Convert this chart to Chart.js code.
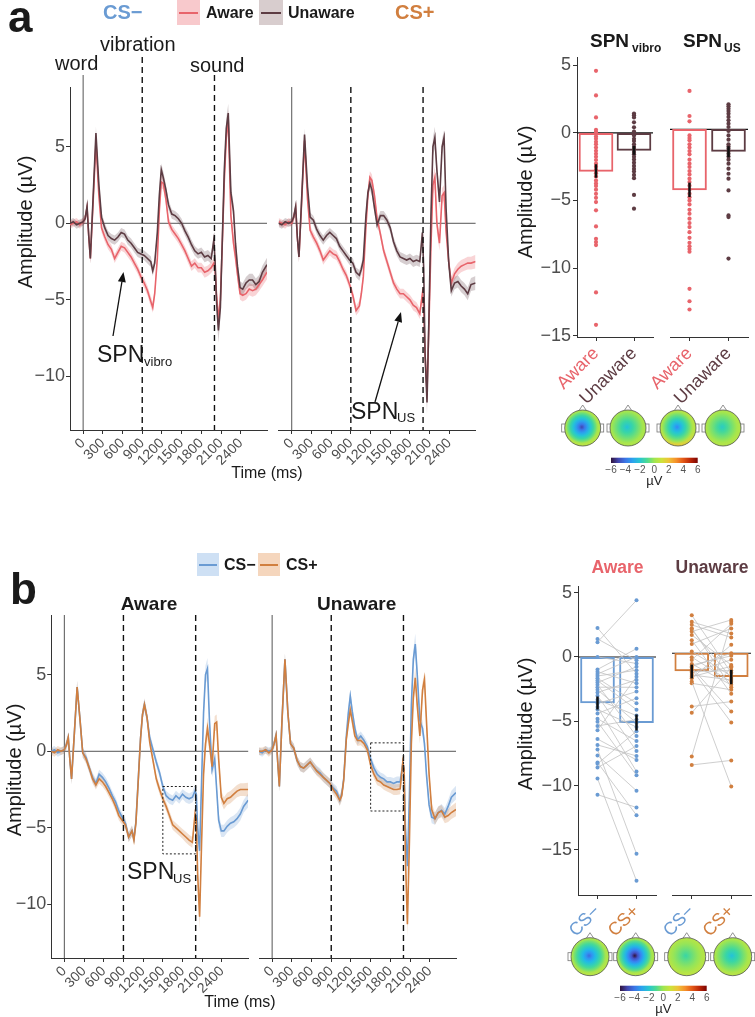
<!DOCTYPE html>
<html>
<head>
<meta charset="utf-8">
<script src="https://cdn.jsdelivr.net/npm/chart.js@4.4.0/dist/chart.umd.min.js"></script>
<style>
body{margin:0;background:#fff;width:755px;height:1017px;position:relative;overflow:hidden;font-family:'Liberation Sans',Arial,sans-serif}
canvas{position:absolute}
.t{position:absolute;white-space:nowrap;line-height:1;color:#1a1a1a}
.bx{position:absolute}
svg{position:absolute;left:0;top:0}
</style>
</head>
<body>
<script>
// ---- ERP data (time in ms, amplitude in µV) ----
const times = [-200,-150,-100,-50,0,30,60,85,110,150,195,240,280,330,380,430,480,530,580,630,680,730,780,830,880,930,980,1030,1060,1090,1130,1160,1190,1220,1260,1300,1350,1400,1450,1500,1550,1600,1650,1700,1750,1800,1850,1900,1950,1990,2010,2030,2060,2090,2120,2150,2180,2210,2250,2290,2320,2350,2390,2430,2480,2530,2580,2630,2680,2730,2800];
const seBand = [0.25,0.25,0.25,0.25,0.25, 0.3,0.35,0.35,0.35,0.35,0.4, 0.35,0.3,0.3,0.3,0.3,0.3,0.3,0.3,0.3,0.3,0.3,0.3,0.3,0.3,0.32,0.32,0.35,0.35,0.35,0.35,0.35,0.4,0.4,0.35,0.35,0.3,0.3,0.3,0.3,0.3,0.32,0.32,0.32,0.32,0.32,0.35,0.35,0.35, 0.4,0.5,0.7,0.8,0.7,0.6,0.6,0.7,0.6,0.5,0.5,0.5,0.45,0.4, 0.4,0.4,0.4,0.4,0.4,0.42,0.42,0.45];

const aCSminusUnaware = [0.0,0.1,-0.1,0.0,0.1, 0.3,1.1,-0.8,-2.3,1.5, 5.9,2.5,0.4,-0.3,-0.8, -1.0,-1.1,-0.9,-0.6,-0.7, -1.1,-1.3,-1.6,-1.9,-2.0, -2.1,-2.3,-2.5,-3.1,-2.6, -0.6,1.8,3.5,3.0,2.2, 1.2,0.6,0.5,0.3,0.0, -0.5,-0.9,-1.4,-1.8,-2.0, -1.9,-2.2,-2.1,-2.3,-1.1, -2.5,-5.0,-7.0,-5.5,-1.0, 3.5,6.2,7.2,2.0,0.8, -1.3,-2.8,-4.2,-4.3,-3.9, -3.7,-3.7,-4.0,-3.8,-3.2, -2.7];
const aCSminusAware = [-0.1,0.0,0.1,-0.1,0.1, 0.3,1.0,-0.8,-2.3,1.2, 5.3,1.8,-0.3,-0.9,-1.4, -1.7,-2.3,-1.9,-1.5,-1.6, -1.9,-2.2,-2.6,-3.0,-3.5, -3.9,-4.4,-5.1,-5.5,-4.6, -2.3,0.8,2.7,2.6,1.6, 0.1,-0.4,-0.7,-1.0,-1.4, -1.8,-2.3,-2.8,-2.6,-2.9, -2.9,-3.2,-3.1,-2.9,-2.6, -3.0,-4.6,-6.3,-5.0,-1.2, 2.8,5.6,6.8,0.5,-1.3, -2.2,-3.3,-4.6,-4.7,-4.6, -4.3,-4.4,-4.3,-4.0,-3.7, -3.2];
const aCSplusUnaware = [0.0,-0.1,0.1,0.0,0.1, 0.4,1.1,-0.9,-2.2,1.5, 5.8,2.4,0.4,0.2,-0.4, -0.8,-1.1,-0.8,-0.6,-0.8, -1.0,-1.5,-1.8,-2.1,-2.4, -2.6,-3.2,-3.4,-3.0,-2.4, 0.5,2.0,2.6,2.2,1.0, -0.1,0.5,0.5,0.2,-0.3, -1.2,-1.8,-2.2,-2.3,-2.4, -2.3,-2.5,-2.4,-2.5,-0.6, -3.0,-8.5,-11.7,-6.0,0.5, 5.0,5.6,3.5,1.4,5.0, 5.6,1.0,-2.5,-4.4,-3.9, -3.8,-4.1,-4.3,-4.6,-4.0, -3.9];
const aCSplusAware = [0.1,0.0,-0.1,0.1,0.0, 0.4,1.0,-0.9,-2.2,1.3, 5.4,1.6,-0.45,-0.9,-1.3, -1.8,-2.4,-2.1,-1.8,-2.0, -2.1,-2.5,-3.0,-3.4,-4.0, -4.7,-5.7,-5.4,-4.6,-3.5, -0.2,1.8,3.0,2.8,1.8, 0.3,-0.7,-1.8,-2.5,-3.2, -3.9,-4.3,-4.6,-4.6,-4.8, -5.0,-5.35,-5.5,-5.9,-4.6, -5.5,-8.5,-11.0,-6.5,-1.5, 2.5,3.0,0.0,-1.3,1.8, 2.0,-0.5,-2.5,-3.9,-3.3, -3.0,-2.8,-2.7,-2.6,-2.6, -2.5];

const bAwareCSminus = [0.0,0.1,-0.1,0.0,0.1, 0.4,0.9,-0.6,-1.8,1.0, 4.2,2.0,-0.1,-0.4,-1.1, -1.7,-2.1,-1.5,-1.7,-2.0, -2.4,-2.9,-3.3,-3.9,-4.3, -4.7,-5.6,-5.2,-5.7,-4.6, -1.5,0.8,2.4,3.05,2.2, 0.9,0.1,-0.7,-1.4,-2.3, -2.9,-3.1,-3.2,-2.9,-3.1, -2.8,-3.0,-3.1,-3.0,-2.6, -2.8,-5.0,-6.5,-2.0,2.5, 5.0,5.4,2.0,-1.2,-0.5, -2.5,-4.5,-5.2,-5.2,-4.9, -4.7,-4.6,-4.4,-4.1,-3.6, -3.2];
const bAwareCSplus = [0.0,-0.1,0.1,0.0,0.1, 0.4,0.9,-0.6,-1.8,1.0, 4.2,2.0,-0.1,-0.5,-1.1, -1.8,-2.2,-1.8,-2.0,-2.3, -2.7,-3.1,-3.6,-4.2,-4.5, -4.8,-5.6,-5.2,-5.8,-4.7, -1.6,0.8,2.4,3.05,2.2, 0.6,-0.6,-1.8,-2.5,-3.1, -3.6,-4.2,-4.8,-5.0,-5.2, -5.4,-5.6,-5.8,-5.95,-4.1, -4.5,-8.0,-10.8,-6.0,-1.5, 0.5,1.5,0.5,-1.0,1.8, 1.9,-0.5,-3.0,-3.4,-3.1, -3.0,-2.8,-2.6,-2.5,-2.5, -2.5];
const bUnawareCSminus = [0.0,-0.1,0.1,0.0,0.1, 0.5,1.05,-0.7,-2.3,2.0, 6.0,2.5,0.5,0.2,-0.6, -1.0,-1.1,-0.9,-0.7,-1.0, -1.25,-1.4,-1.7,-1.9,-2.1, -2.4,-2.6,-3.2,-2.8,-1.8, 1.0,2.5,3.6,2.6,1.5, 0.75,1.0,0.7,0.3,-0.5, -1.1,-1.5,-1.7,-1.8,-2.0, -2.0,-2.1,-2.0,-2.0,-0.8, -1.2,-5.0,-7.5,-3.0,3.0, 6.0,7.0,5.0,2.0,1.5, 0.5,-1.5,-3.5,-4.3,-4.4, -4.0,-3.85,-4.1,-3.6,-3.0, -2.7];
const bUnawareCSplus = [0.0,0.0,0.1,-0.1,0.1, 0.5,1.05,-0.7,-2.3,2.0, 6.0,2.5,0.5,0.2,-0.6, -1.0,-1.1,-0.9,-0.7,-1.0, -1.3,-1.5,-1.7,-1.9,-2.1, -2.5,-2.8,-3.2,-2.9,-1.9, 0.8,1.8,2.7,2.0,1.0, 0.7,0.7,0.5,0.1,-0.9, -1.5,-1.9,-2.0,-2.2,-2.3, -2.4,-2.5,-2.5,-2.45,-0.7, -1.2,-7.0,-11.3,-6.0,0.5, 3.5,4.8,3.0,1.0,4.0, 4.7,2.0,-1.5,-3.8,-4.4, -4.0,-3.9,-4.3,-4.2,-4.0, -3.8];

const eventTimes = [0, 900, 2000];
const erpTicksX = [0,300,600,900,1200,1500,1800,2100,2400];
const erpTicksY = [5,0,-5,-10];
const spnWindow = [1500, 2000];
const spnBoxAware = [-2.3, -6.7];
const spnBoxUnaware = [0.55, -3.9];

// ---- bar + dot data (µV) ----
const groupLabels = ['Aware', 'Unaware'];
const spnVibroMean = [-2.85, -1.3];
const spnVibroErr = [[-3.3, -2.35], [-1.6, -1.0]];
const spnUSMean = [-4.4, -1.6];
const spnUSErr = [[-4.9, -3.9], [-2.0, -1.25]];
const vibroAwareDots = [4.59,2.77,1.14,0.22,0.07,-0.07,-0.27,-0.44,-0.66,-0.85,-1.09,-1.33,-1.55,-1.77,-2.01,-2.28,-2.5,-2.74,-2.99,-3.23,-3.52,-3.74,-3.93,-4.2,-4.51,-4.81,-5.12,-5.73,-6.92,-7.84,-8.08,-8.3,-11.8,-14.2];
const vibroUnawareDots = [1.43,1.31,1.14,0.78,0.41,0.1,-0.19,-0.44,-0.61,-0.85,-1.04,-1.21,-1.41,-1.58,-1.77,-1.97,-2.21,-2.45,-2.67,-2.86,-3.11,-3.35,-4.59,-5.61];
const usAwareDots = [2.79,0.97,0.58,-0.44,-0.63,-0.8,-1.09,-1.33,-1.58,-1.82,-2.21,-2.5,-2.74,-3.03,-3.28,-3.59,-3.83,-4.1,-4.37,-4.68,-4.93,-5.17,-5.46,-5.85,-6.14,-6.5,-6.82,-7.11,-7.48,-7.89,-8.25,-8.5,-8.7,-8.9,-11.6,-12.5,-13.1];
const usUnawareDots = [1.82,1.67,1.5,1.33,1.14,0.9,0.66,0.41,0.17,-0.12,-0.44,-0.75,-1.09,-1.24,-1.41,-1.58,-1.77,-1.97,-2.21,-2.5,-2.86,-3.23,-3.59,-4.44,-6.26,-6.38,-9.4];

const csLabels = ['CS\u2212', 'CS+'];
const awareMean = [-3.57, -5.1];
const awareErr = [[-4.05, -3.1], [-5.7, -4.5]];
const unawareMean = [-1.35, -1.8];
const unawareErr = [[-1.9, -0.9], [-2.35, -1.3]];
const awareCSm = [2.25,1.4,1.15,0,-0.97,-1.15,-1.33,-1.48,-1.66,-1.84,-1.99,-2.17,-2.35,-2.55,-2.76,-3.01,-3.32,-3.62,-3.9,-4.08,-4.39,-4.8,-5.03,-5.36,-5.69,-6.38,-6.84,-7.19,-7.65,-8.2,-8.6,-9.45,-10.7,-8.3];
const awareCSp = [-1.3,-0.26,4.4,-0.51,0.64,-2.05,0,-1.03,-3.59,-4.1,-0.77,-6.15,-2.36,-5.13,-1.79,-7.31,-4.56,-2.69,-8.9,-5.44,-3.21,-6.54,-9.2,-4.87,-1.54,-8.0,-7.69,-15.3,-10.4,-12.3,-6.92,-17.4,-11.7,-5.77];
const unawareCSm = [2.9,2.17,1.92,1.66,1.4,1.0,0.7,0.13,-0.51,-0.82,-1.02,-1.22,-1.4,-1.66,-1.92,-2.17,-4.08,-4.56,-7.9,-8.55,-0.3,-1.1,-1.5,-2.3,1.8,2.4,-0.9,-1.8];
const unawareCSp = [-1.5,1.2,-2.6,2.55,-0.9,-3.1,1.9,-1.74,2.25,-2.42,0,-5.3,-1.33,-2.05,0.64,-10.2,-3.7,-1.1,2.4,-8.2,-2.2,-4.46,-0.5,-2.8,-1.9,1.5,-0.2,-1.0];
const barTicksY = [5,0,-5,-10,-15];

// ---- topography (µV) ----
const topoCentreA = [-5.0, -2.2, -3.6, -1.8];
const topoEdgeA = [0.3, 0.2, 0.5, 0.3];
const topoLowA = [0.6, 0.3, 1.8, 0.4];
const topoCentreB = [-4.2, -6.0, -1.3, -2.2];
const topoEdgeB = [0.3, 0.2, 0.4, 0.3];
const topoLowB = [0.5, 0.5, 0.6, 0.5];
const cbTicks = [-6,-4,-2,0,2,4,6];

const pink = '#E8646B', brown = '#5D3C43', blue = '#6A9BD3', orange = '#D17F3F';
const grey = '#4d4d4d';

Chart.defaults.font.family = "'Liberation Sans', Arial, sans-serif";
Chart.defaults.plugins.legend.display = false;
Chart.defaults.plugins.tooltip.enabled = false;

const fmt = v => (v < 0 ? '\u2212' + Math.abs(v) : String(v));

function makeCanvas(L, T, W, H) {
  const c = document.createElement('canvas');
  c.width = W; c.height = H;
  c.style.left = L + 'px'; c.style.top = T + 'px';
  c.style.width = W + 'px'; c.style.height = H + 'px';
  document.body.appendChild(c);
  return c;
}

function erpChart(L, T, W, H, cfg) {
  const cv = makeCanvas(L, T, W, H);
  const ds = [];
  cfg.series.forEach(s => {
    ds.push({ data: times.map((t, i) => ({ x: t, y: s.v[i] })), borderColor: s.c, borderWidth: 1.6,
      pointRadius: 0, fill: false, order: 0 });
  });
  cfg.series.forEach(s => {
    ds.push({ data: times.map((t, i) => ({ x: t, y: s.v[i] - seBand[i] })), borderWidth: 0, pointRadius: 0, fill: false, order: 1 });
    ds.push({ data: times.map((t, i) => ({ x: t, y: s.v[i] + seBand[i] })), borderWidth: 0, pointRadius: 0,
      fill: '-1', backgroundColor: s.band, order: 1 });
  });
  new Chart(cv, {
    type: 'line',
    data: { datasets: ds },
    options: {
      responsive: false, animation: false, devicePixelRatio: 1,
      layout: { padding: cfg.pad },
      scales: {
        x: {
          type: 'linear', min: -200, max: 2800,
          afterBuildTicks: s => { s.ticks = erpTicksX.map(v => ({ value: v })); },
          afterFit: s => { s.height = cfg.xh; s.paddingLeft = 0; s.paddingRight = 0; },
          ticks: { autoSkip: false, minRotation: 45, maxRotation: 45, font: { size: 14 }, color: grey, padding: 1,
            callback: v => String(v) },
          grid: { drawOnChartArea: false, tickLength: 4, color: '#333' },
          border: { display: true, color: '#333', width: 1 }
        },
        y: {
          min: -13.5, max: 8.9,
          afterBuildTicks: s => { s.ticks = erpTicksY.map(v => ({ value: v })); },
          afterFit: s => { s.width = cfg.yw; },
          ticks: { display: cfg.showY, font: { size: 18 }, color: grey, padding: 1, callback: v => fmt(v) },
          grid: { display: cfg.showY, drawOnChartArea: false, tickLength: 4, color: '#333' },
          border: { display: cfg.showY, color: '#333', width: 1 }
        }
      }
    },
    plugins: [{
      id: 'erpDecor',
      beforeDatasetsDraw(ch) {
        const { ctx, chartArea: a, scales: { x, y } } = ch;
        ctx.save();
        ctx.strokeStyle = '#555'; ctx.lineWidth = 1;
        const y0 = y.getPixelForValue(0);
        ctx.beginPath(); ctx.moveTo(a.left, y0); ctx.lineTo(a.right, y0); ctx.stroke();
        const xw = x.getPixelForValue(eventTimes[0]);
        ctx.beginPath(); ctx.moveTo(xw, cfg.tops ? cfg.tops[0] : a.top); ctx.lineTo(xw, a.bottom); ctx.stroke();
        ctx.restore();
      },
      afterDatasetsDraw(ch) {
        const { ctx, chartArea: a, scales: { x, y } } = ch;
        ctx.save();
        ctx.strokeStyle = '#111'; ctx.lineWidth = 1.4; ctx.setLineDash([6, 4]);
        [1, 2].forEach(k => {
          const xp = x.getPixelForValue(eventTimes[k]);
          ctx.beginPath(); ctx.moveTo(xp, cfg.tops ? cfg.tops[k] : a.top); ctx.lineTo(xp, a.bottom); ctx.stroke();
        });
        if (cfg.box) {
          ctx.lineWidth = 1; ctx.setLineDash([2, 2]); ctx.strokeStyle = '#222';
          const x1 = x.getPixelForValue(spnWindow[0]), x2 = x.getPixelForValue(spnWindow[1]);
          const y1 = y.getPixelForValue(cfg.box[0]), y2 = y.getPixelForValue(cfg.box[1]);
          ctx.strokeRect(x1, y1, x2 - x1, y2 - y1);
        }
        ctx.restore();
      }
    }]
  });
}

function barChart(L, T, W, H, cfg) {
  const cv = makeCanvas(L, T, W, H);
  const ds = [];
  ds.push({ type: 'bar', data: cfg.err, backgroundColor: '#111', borderWidth: 0, barThickness: 1.8, grouped: false, order: 0 });
  if (cfg.dots) {
    cfg.dots.forEach((arr, k) => {
      ds.push({ type: 'line', showLine: false, data: arr.map(v => ({ x: cfg.labels[k], y: v })),
        pointRadius: 2.1, pointBackgroundColor: cfg.dotColors[k], pointBorderWidth: 0, order: 1 });
    });
  }
  if (cfg.pairs) {
    cfg.pairs[0].forEach((v, i) => {
      ds.push({ type: 'line', data: [{ x: cfg.labels[0], y: v }, { x: cfg.labels[1], y: cfg.pairs[1][i] }],
        borderColor: '#c2c2c2', borderWidth: 0.8, pointRadius: 2, pointBackgroundColor: cfg.pairColor,
        pointBorderWidth: 0, fill: false, order: 1 });
    });
  }
  ds.push({ type: 'bar', data: cfg.means, backgroundColor: 'rgba(255,255,255,0)', borderColor: cfg.barColors,
    borderWidth: 1.3, borderSkipped: false, barThickness: 34, grouped: false, order: 3 });
  new Chart(cv, {
    type: 'bar',
    data: { labels: cfg.labels, datasets: ds },
    options: {
      responsive: false, animation: false, devicePixelRatio: 1,
      layout: { padding: cfg.pad },
      scales: {
        x: {
          type: 'category', offset: true,
          afterFit: s => { s.height = cfg.xh; s.paddingLeft = 0; s.paddingRight = 0; },
          ticks: { minRotation: 45, maxRotation: 45, font: { size: 18 }, padding: 2,
            color: c => cfg.labelColors[c.index] },
          grid: { offset: false, drawOnChartArea: false, tickLength: 4, color: '#333' },
          border: { display: true, color: '#333', width: 1 }
        },
        y: {
          min: cfg.ymin, max: cfg.ymax,
          afterBuildTicks: s => { s.ticks = barTicksY.map(v => ({ value: v })); },
          afterFit: s => { s.width = cfg.yw; },
          ticks: { display: cfg.showY, font: { size: 18 }, color: grey, padding: 2, callback: v => fmt(v) },
          grid: { display: cfg.showY, drawOnChartArea: false, tickLength: 4, color: '#333' },
          border: { display: cfg.showY, color: '#333', width: 1 }
        }
      }
    },
    plugins: [{
      id: 'zeroLine',
      beforeDatasetsDraw(ch) {
        const { ctx, chartArea: a, scales: { y } } = ch;
        const y0 = y.getPixelForValue(0);
        ctx.save(); ctx.strokeStyle = '#111'; ctx.lineWidth = 1.1;
        ctx.beginPath(); ctx.moveTo(a.left, y0); ctx.lineTo(a.right, y0); ctx.stroke(); ctx.restore();
      }
    }]
  });
}

const turboStops = [[48,18,59],[68,80,198],[55,135,246],[30,190,230],[60,215,160],[160,230,80],[215,225,55],[250,180,55],[240,110,30],[200,45,8],[122,4,3]];
function turbo(v, a) {
  let t = Math.max(0, Math.min(1, (v + 6) / 12));
  const f = t * 10, i = Math.min(9, Math.floor(f)), u = f - i;
  const c = turboStops[i].map((c0, k) => Math.round(c0 + (turboStops[i + 1][k] - c0) * u));
  return 'rgba(' + c[0] + ',' + c[1] + ',' + c[2] + ',' + (a == null ? 1 : a) + ')';
}

function drawHead(ctx, cx, cy, r, centre, edge, low) {
  ctx.save();
  ctx.strokeStyle = '#777'; ctx.lineWidth = 0.8; ctx.fillStyle = '#fff';
  ctx.beginPath(); ctx.moveTo(cx - 4, cy - r + 1); ctx.lineTo(cx, cy - r - 5); ctx.lineTo(cx + 4, cy - r + 1);
  ctx.closePath(); ctx.fill(); ctx.stroke();
  ctx.fillRect(cx - r - 3, cy - 4, 4, 8); ctx.strokeRect(cx - r - 3, cy - 4, 4, 8);
  ctx.fillRect(cx + r - 1, cy - 4, 4, 8); ctx.strokeRect(cx + r - 1, cy - 4, 4, 8);
  ctx.beginPath(); ctx.arc(cx, cy, r, 0, Math.PI * 2);
  ctx.save(); ctx.clip();
  ctx.fillStyle = turbo(edge); ctx.fillRect(cx - r, cy - r, 2 * r, 2 * r);
  const lg = ctx.createLinearGradient(0, cy, 0, cy + r);
  lg.addColorStop(0, turbo(edge, 0)); lg.addColorStop(1, turbo(low));
  ctx.fillStyle = lg; ctx.fillRect(cx - r, cy, 2 * r, r);
  const bx = cx - 0.05 * r, by = cy - 0.05 * r;
  const g = ctx.createRadialGradient(bx, by, 0, bx, by, r * 0.95);
  for (let k = 0; k <= 6; k++) {
    const f = k / 6;
    g.addColorStop(f, turbo(centre + (edge - centre) * Math.pow(f, 0.9), k === 6 ? 0 : 1));
  }
  ctx.fillStyle = g; ctx.fillRect(cx - r, cy - r, 2 * r, 2 * r);
  ctx.restore();
  ctx.strokeStyle = '#555'; ctx.lineWidth = 0.8;
  ctx.beginPath(); ctx.arc(cx, cy, r, 0, Math.PI * 2); ctx.stroke();
  ctx.restore();
}

function topoChart(L, T, W, H, cfg) {
  const cv = makeCanvas(L, T, W, H);
  new Chart(cv, {
    type: 'scatter',
    data: { datasets: [] },
    options: {
      responsive: false, animation: false, devicePixelRatio: 1,
      layout: { padding: { left: cfg.pl, right: cfg.pr, top: cfg.pt, bottom: 0 } },
      scales: {
        x: {
          type: 'linear', min: -6, max: 6,
          afterBuildTicks: s => { s.ticks = cbTicks.map(v => ({ value: v })); },
          afterFit: s => { s.height = cfg.xh; s.paddingLeft = 0; s.paddingRight = 0; },
          ticks: { maxRotation: 0, font: { size: 10 }, color: '#555', padding: 1, callback: v => fmt(v) },
          grid: { display: false, drawTicks: false, tickLength: 0 }, border: { display: false },
          title: { display: true, text: '\u00b5V', font: { size: 13 }, color: '#222', padding: 0 }
        },
        y: { display: false, min: 0, max: 1 }
      }
    },
    plugins: [{
      id: 'topo',
      beforeDraw(ch) {
        const { ctx, chartArea: a } = ch;
        const g = ctx.createLinearGradient(a.left, 0, a.right, 0);
        for (let k = 0; k <= 12; k++) g.addColorStop(k / 12, turbo(-6 + k));
        ctx.fillStyle = g; ctx.fillRect(a.left, a.top, a.right - a.left, a.bottom - a.top);
        cfg.heads.forEach((p, i) => drawHead(ctx, p[0], p[1], cfg.r, cfg.centre[i], cfg.edge[i], cfg.low[i]));
      }
    }]
  });
}

// ---- panel a ----
erpChart(0, 40, 272, 440, { yw: 70, pad: { left: 0, right: 5, top: 47, bottom: 0 }, xh: 50, showY: true,
  tops: [35, 17, 35],
  series: [{ v: aCSminusUnaware, c: brown, band: 'rgba(93,60,67,0.25)' }, { v: aCSminusAware, c: pink, band: 'rgba(232,100,107,0.28)' }] });
erpChart(272, 40, 210, 440, { yw: 6.6, pad: { left: 0, right: 6.4, top: 47, bottom: 0 }, xh: 50, showY: false,
  series: [{ v: aCSplusUnaware, c: brown, band: 'rgba(93,60,67,0.25)' }, { v: aCSplusAware, c: pink, band: 'rgba(232,100,107,0.28)' }] });

barChart(505, 45, 152, 367, { yw: 72, pad: { left: 0, right: 2, top: 8, bottom: 0 }, xh: 75, showY: true,
  labels: groupLabels, labelColors: [pink, brown], means: spnVibroMean, err: spnVibroErr, barColors: [pink, brown],
  dots: [vibroAwareDots, vibroUnawareDots], dotColors: [pink, brown], ymin: -15.1, ymax: 5.55 });
barChart(640, 45, 113, 367, { yw: 30, pad: { left: 0, right: 5, top: 8, bottom: 0 }, xh: 75, showY: false,
  labels: groupLabels, labelColors: [pink, brown], means: spnUSMean, err: spnUSErr, barColors: [pink, brown],
  dots: [usAwareDots, usUnawareDots], dotColors: [pink, brown], ymin: -15.1, ymax: 5.55 });

topoChart(555, 400, 200, 89, { pl: 56, pr: 57.3, pt: 57.7, xh: 26, r: 18,
  heads: [[27.7, 28], [73, 28], [123, 28], [168, 28]], centre: topoCentreA, edge: topoEdgeA, low: topoLowA });

// ---- panel b ----
erpChart(0, 560, 252, 450, { yw: 51.2, pad: { left: 0, right: 3.8, top: 55, bottom: 0 }, xh: 52, showY: true, box: spnBoxAware,
  series: [{ v: bAwareCSplus, c: orange, band: 'rgba(209,127,63,0.25)' }, { v: bAwareCSminus, c: blue, band: 'rgba(106,155,211,0.25)' }] });
erpChart(252, 560, 210, 450, { yw: 7, pad: { left: 0, right: 6, top: 55, bottom: 0 }, xh: 52, showY: false, box: spnBoxUnaware,
  series: [{ v: bUnawareCSplus, c: orange, band: 'rgba(209,127,63,0.25)' }, { v: bUnawareCSminus, c: blue, band: 'rgba(106,155,211,0.25)' }] });

barChart(505, 574, 155, 371, { yw: 73, pad: { left: 0, right: 2.3, top: 8, bottom: 0 }, xh: 50, showY: true,
  labels: csLabels, labelColors: [blue, orange], means: awareMean, err: awareErr, barColors: [blue, blue],
  pairs: [awareCSm, awareCSp], pairColor: blue, ymin: -18.5, ymax: 5.45 });
barChart(640, 574, 115, 371, { yw: 32, pad: { left: 0, right: 3, top: 8, bottom: 0 }, xh: 50, showY: false,
  labels: csLabels, labelColors: [blue, orange], means: unawareMean, err: unawareErr, barColors: [orange, orange],
  pairs: [unawareCSm, unawareCSp], pairColor: orange, ymin: -18.5, ymax: 5.45 });

topoChart(560, 930, 195, 87, { pl: 60, pr: 48.3, pt: 55.7, xh: 26, r: 19,
  heads: [[30, 26.7], [75.7, 26.7], [126.7, 26.7], [172.7, 26.7]], centre: topoCentreB, edge: topoEdgeB, low: topoLowB });

// ---- text ----
function label(s, x, base, size, o) {
  o = o || {};
  const d = document.createElement('div');
  d.className = 't'; d.textContent = s;
  d.style.fontSize = size + 'px';
  if (o.bold) d.style.fontWeight = 'bold';
  if (o.color) d.style.color = o.color;
  d.style.top = (base - 0.8465 * size) + 'px';
  d.style.left = x + 'px';
  if (o.center) d.style.transform = 'translateX(-50%)';
  document.body.appendChild(d);
}
function vlabel(s, cx, cy, size) {
  const d = document.createElement('div');
  d.className = 't'; d.textContent = s; d.style.fontSize = size + 'px';
  d.style.left = cx + 'px'; d.style.top = cy + 'px';
  d.style.transform = 'translate(-50%,-50%) rotate(-90deg)';
  document.body.appendChild(d);
}
function keyBox(x, y, w, h, fill, line) {
  const b = document.createElement('div'); b.className = 'bx';
  b.style.cssText += 'left:' + x + 'px;top:' + y + 'px;width:' + w + 'px;height:' + h + 'px;background:' + fill;
  document.body.appendChild(b);
  const l = document.createElement('div'); l.className = 'bx';
  l.style.cssText += 'left:' + (x + 2) + 'px;top:' + (y + h / 2 - 1) + 'px;width:' + (w - 4) + 'px;height:2px;background:' + line;
  document.body.appendChild(l);
}

label('a', 8, 32, 44, { bold: true });
label('CS\u2212', 103, 19, 20, { bold: true, color: blue });
keyBox(177, 0, 23, 25, '#F8C9CC', pink);
label('Aware', 206, 19, 16, { bold: true });
keyBox(259, 0, 23.5, 25, '#D8CDCE', brown);
label('Unaware', 288, 19, 16, { bold: true });
label('CS+', 395, 19, 20, { bold: true, color: orange });
label('word', 55, 70, 20);
label('vibration', 100, 51, 20);
label('sound', 190, 71.5, 20);
vlabel('Amplitude (\u00b5V)', 25, 222, 20);
label('Time (ms)', 267, 479, 16, { center: true });
label('SPN', 97, 362, 23); label('vibro', 144, 366, 13);
label('SPN', 351, 419, 23); label('US', 397, 422, 13);
label('SPN', 590, 47, 19, { bold: true }); label('vibro', 632, 52, 12, { bold: true });
label('SPN', 683, 47, 19, { bold: true }); label('US', 724, 52, 12, { bold: true });
vlabel('Amplitude (\u00b5V)', 525, 192, 20);

label('b', 10, 604, 44, { bold: true });
keyBox(197, 553, 21.5, 23, '#CEE0F4', blue);
label('CS\u2212', 224, 571, 16, { bold: true });
keyBox(258, 553, 22, 23, '#F5D6BD', orange);
label('CS+', 286, 571, 16, { bold: true });
label('Aware', 149, 610, 19, { bold: true, center: true });
label('Unaware', 356.7, 610, 19, { bold: true, center: true });
vlabel('Amplitude (\u00b5V)', 14, 770, 20);
label('Time (ms)', 240, 1008, 16, { center: true });
label('SPN', 127, 879, 23); label('US', 173, 883, 13);
label('Aware', 617.5, 574, 17.5, { bold: true, center: true, color: pink });
label('Unaware', 712, 574, 17.5, { bold: true, center: true, color: brown });
vlabel('Amplitude (\u00b5V)', 525, 724, 20);

// arrows
document.body.insertAdjacentHTML('beforeend',
  '<svg width="755" height="1017">' +
  '<line x1="113" y1="336" x2="121.9" y2="281.9" stroke="#111" stroke-width="1.3"/>' +
  '<polygon points="123.5,272 125.8,282.5 117.9,281.3" fill="#111"/>' +
  '<line x1="375" y1="402" x2="398.2" y2="321.6" stroke="#111" stroke-width="1.3"/>' +
  '<polygon points="401,312 402,322.7 394.4,320.5" fill="#111"/>' +
  '</svg>');
</script>
</body>
</html>
